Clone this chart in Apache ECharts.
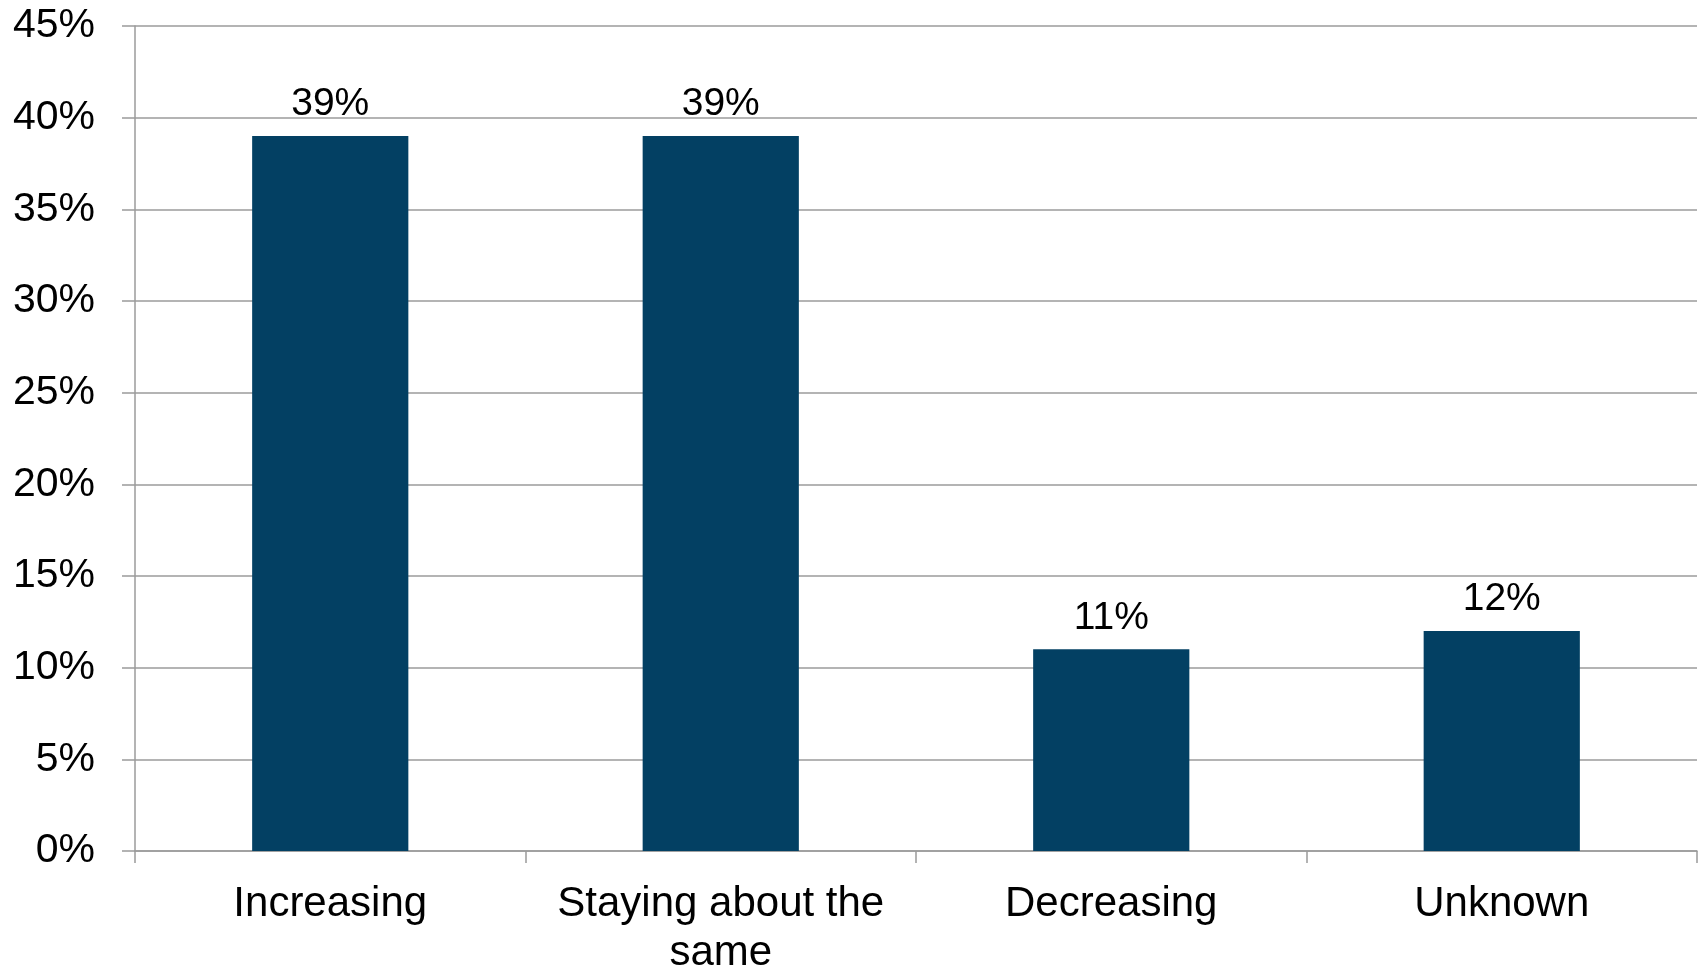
<!DOCTYPE html>
<html>
<head>
<meta charset="utf-8">
<script src="https://cdn.jsdelivr.net/npm/echarts@6/dist/echarts.min.js"></script>
<style>
  html, body { margin: 0; padding: 0; background: #fff; }
  #main { width: 1701px; height: 968px; }
</style>
</head>
<body>
<div id="main"></div>
<script>
const categories = ['Increasing', 'Staying about the same', 'Decreasing', 'Unknown'];
const shares = [39, 39, 11, 12];
const yTicks = [0, 5, 10, 15, 20, 25, 30, 35, 40, 45];

const chart = echarts.init(document.getElementById('main'), null, { renderer: 'canvas' });
const gridGrey = '#9b9b9b';

const option = {
  animation: false,
  grid: { left: 135, right: 4, top: 26, bottom: 117, outerBoundsMode: 'none', containLabel: false },
  xAxis: {
    type: 'category',
    data: categories,
    axisLine: { lineStyle: { color: gridGrey, width: 1.5 } },
    axisTick: { show: true, length: 12, alignWithLabel: false, lineStyle: { color: gridGrey, width: 1.5 } },
    axisLabel: {
      color: '#000',
      fontFamily: '"Liberation Sans", Arial, sans-serif',
      fontSize: 42,
      lineHeight: 49,
      margin: 29,
      interval: 0,
      // wrap the long label the same way the original does
      formatter: v => v.replace('the same', 'the\nsame')
    }
  },
  yAxis: {
    type: 'value',
    min: yTicks[0],
    max: yTicks[yTicks.length - 1],
    interval: 5,
    axisLine: { show: true, lineStyle: { color: gridGrey, width: 1.5 } },
    axisTick: { show: true, length: 13, lineStyle: { color: gridGrey, width: 1.5 } },
    splitLine: { lineStyle: { color: gridGrey, width: 1.5 } },
    axisLabel: {
      color: '#000',
      fontFamily: '"Liberation Sans", Arial, sans-serif',
      fontSize: 41,
      margin: 40,
      formatter: v => v + '%'
    }
  },
  series: [{
    type: 'bar',
    data: shares,
    barWidth: '40%',
    itemStyle: { color: '#034063' },
    label: {
      show: true,
      position: 'top',
      distance: 12,
      color: '#000',
      fontFamily: '"Liberation Sans Narrow", "Arial Narrow", "Liberation Sans", sans-serif',
      fontSize: 39,
      formatter: p => p.value + '%'
    }
  }]
};

chart.setOption(option);
</script>
</body>
</html>
